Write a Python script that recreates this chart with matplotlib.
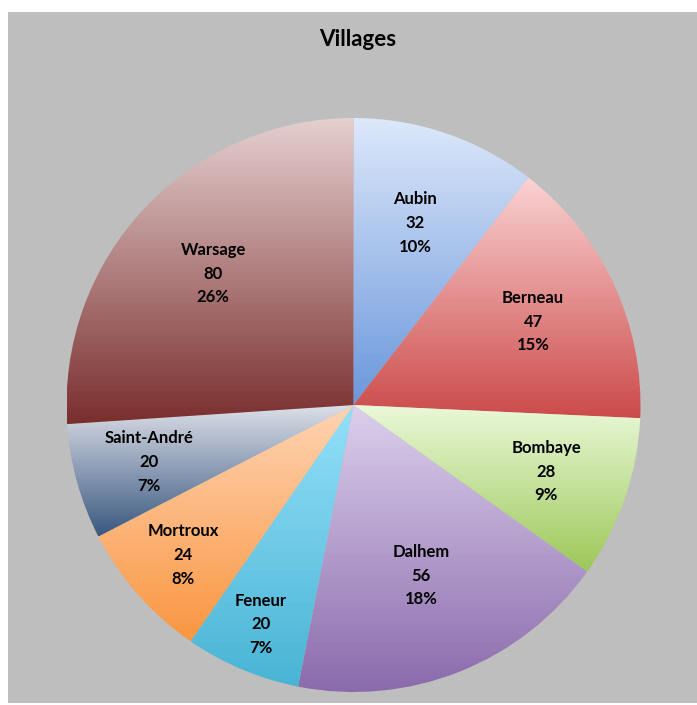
import matplotlib.pyplot as plt
import matplotlib.patches as mpatches
from matplotlib.colors import to_rgb
import numpy as np

# data
villages = ['Aubin', 'Berneau', 'Bombaye', 'Dalhem', 'Feneur', 'Mortroux', 'Saint-André', 'Warsage']
counts = [32, 47, 28, 56, 20, 24, 20, 80]

# gradient colours (top, bottom) per slice
grad_top = ['#dde8fa', '#fbd3d3', '#eaf8d8', '#dcd0ec', '#94e0fa', '#ffd4b4', '#dde0e8', '#e6d0d0']
grad_bot = ['#6a97dc', '#cc4a4a', '#9cc858', '#8a6aac', '#48b4d4', '#f99640', '#3a5880', '#7a2e2e']
# how far out each label sits (fraction of radius)
label_r = [0.67, 0.69, 0.71, 0.64, 0.83, 0.79, 0.74, 0.67]

W, H = 697, 705
fig = plt.figure(figsize=(W / 100, H / 100), dpi=100)
fig.patch.set_facecolor('white')

# grey chart area
fig.patches.append(mpatches.Rectangle((8 / W, 2 / H), 1 - 8 / W, (703 - 12) / H,
                                      transform=fig.transFigure, facecolor='#bebebe',
                                      edgecolor='none', zorder=-5))

fig.text(358 / W, 1 - 40 / H, 'Villages', ha='center', va='center',
         fontsize=16, fontweight='bold', family='Lato')

# axes so that radius 1 == 287 px, centred at (353.5, 405)
R = 287
cx, cy = 353.5, 405
lim = 1.03
side = 2 * R * lim
ax = fig.add_axes([(cx - R * lim) / W, (H - cy - R * lim) / H, side / W, side / H])
ax.set_facecolor('none')
ax.set_zorder(2)

wedges, _ = ax.pie(counts, startangle=90, counterclock=False, radius=1,
                   wedgeprops=dict(linewidth=0))

total = sum(counts)
for i, w in enumerate(wedges):
    w.set_facecolor('none')
    bb = w.get_path().get_extents()
    c1 = np.array(to_rgb(grad_top[i]))
    c2 = np.array(to_rgb(grad_bot[i]))
    t = np.linspace(0, 1, 256)[:, None]
    grad = (c1 * (1 - t) + c2 * t)[:, None, :]
    im = ax.imshow(grad, extent=(bb.x0, bb.x1, bb.y0, bb.y1), origin='upper',
                   aspect='auto', interpolation='bilinear', zorder=1)
    im.set_clip_path(w)

    mid = np.deg2rad((w.theta1 + w.theta2) / 2)
    x = label_r[i] * np.cos(mid)
    y = label_r[i] * np.sin(mid)
    pct = round(100 * counts[i] / total)
    ax.text(x, y, f'{villages[i]}\n{counts[i]}\n{pct}%', ha='center', va='center',
            fontsize=12, fontweight='bold', family='Lato', linespacing=1.6, zorder=3)

ax.set_xlim(-lim, lim)
ax.set_ylim(-lim, lim)
ax.set_aspect('equal')
ax.axis('off')

fig.savefig('out.png', dpi=100)
